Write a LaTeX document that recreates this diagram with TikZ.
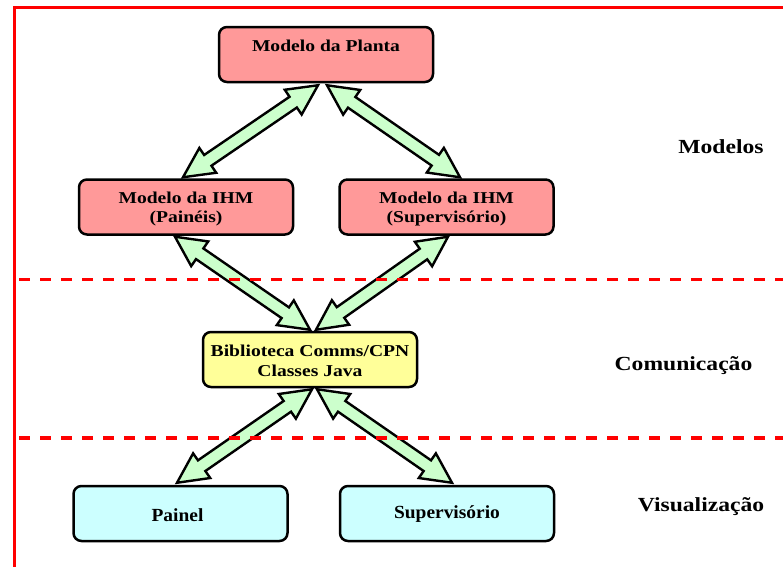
\documentclass[tikz,border=0pt]{standalone}
\usepackage{fontspec}
\setmainfont{Liberation Serif}[FakeStretch=1.18]
\newfontfamily\condserif{Liberation Serif}[FakeStretch=1.05]
\usetikzlibrary{calc}

\definecolor{boxpink}{HTML}{FF9999}
\definecolor{boxyellow}{HTML}{FFFF99}
\definecolor{boxcyan}{HTML}{CCFFFF}
\definecolor{flowgreen}{HTML}{CCFFCC}

% head length, head half-width, shaft half-width of the block arrows
\newcommand\hl{30pt}
\newcommand\hw{15pt}
\newcommand\sw{6.5pt}

% double-headed block arrow between two named coordinates
\newcommand\blockarrow[2]{%
  \filldraw[flow] (#1)
    -- ($(#1)!\hl!(#2)!\hw!90:(#2)$)
    -- ($(#1)!\hl!(#2)!\sw!90:(#2)$)
    -- ($(#2)!\hl!(#1)!\sw!-90:(#1)$)
    -- ($(#2)!\hl!(#1)!\hw!-90:(#1)$)
    -- (#2)
    -- ($(#2)!\hl!(#1)!\hw!90:(#1)$)
    -- ($(#2)!\hl!(#1)!\sw!90:(#1)$)
    -- ($(#1)!\hl!(#2)!\sw!-90:(#2)$)
    -- ($(#1)!\hl!(#2)!\hw!-90:(#2)$)
    -- cycle;}

\tikzset{
  stagebox/.style={draw=black, line width=2.5pt, rounded corners=8pt,
    minimum width=214pt, minimum height=55pt, inner sep=0pt},
  boxtext/.style={align=center, inner sep=0pt,
    font=\bfseries\fontsize{16.6}{19.5}\selectfont},
  plaintext/.style={inner sep=0pt, font=\condserif\bfseries\fontsize{18.5}{20}\selectfont},
  flow/.style={fill=flowgreen, draw=black, line width=2.4pt, line join=miter},
  layerlabel/.style={font=\bfseries\fontsize{20}{22}\selectfont, anchor=base},
  frame/.style={draw=red, line width=3pt},
  divider/.style={draw=red, line width=3.3pt, dash pattern=on 11pt off 10pt},
}

\begin{document}
\begin{tikzpicture}[x=1pt, y=-1pt]
  \fill[white] (0,0) rectangle (783,566);
  \useasboundingbox (0,0) rectangle (783,566);

  % outer frame
  \coordinate (frameTL) at (14,7.5);
  \coordinate (frameTR) at (790,7.5);
  \coordinate (frameBL) at (14,575);
  \draw[frame] (frameTR) -- (frameTL) -- (frameBL);

  % boxes
  \node[stagebox, fill=boxpink] (planta) at (326,54.5) {};
  \node[stagebox, fill=boxpink] (paineis) at (186,207) {};
  \node[stagebox, fill=boxpink] (superv) at (446.5,207) {};
  \node[stagebox, fill=boxyellow] (biblio) at (310,359.5) {};
  \node[stagebox, fill=boxcyan] (painel) at (180.5,513.5) {};
  \node[stagebox, fill=boxcyan] (supervb) at (447,513.5) {};

  % box texts
  \node[boxtext] (plantatext) at ($(planta.center)+(0,-8.5)$) {Modelo da Planta};
  \node[boxtext] (paineistext) at ($(paineis.center)+(0,2)$) {Modelo da IHM\\(Painéis)};
  \node[boxtext] (supervtext) at ($(superv.center)+(0,2)$) {Modelo da IHM\\(Supervisório)};
  \node[boxtext] (bibliotext) at ($(biblio.center)+(0,1.5)$) {Biblioteca Comms/CPN\\Classes Java};
  \node[plaintext] (paineltext) at ($(painel.center)+(-3,1.5)$) {Painel};
  \node[plaintext] (supervbtext) at ($(supervb.center)+(0,1)$) {Supervisório};

  % layer labels
  \node[layerlabel] (lmodelos) at (721,153) {Modelos};
  \node[layerlabel] (lcomm) at (683.5,370) {Comunicação};
  \node[layerlabel] (lvis) at (701,511.5) {Visualização};

  % arrow end points
  \coordinate (a1s) at ($(planta.south)+(-8,2)$);
  \coordinate (a1e) at ($(paineis.north)+(-3,-1)$);
  \coordinate (a2s) at ($(planta.south)+(1,2)$);
  \coordinate (a2e) at ($(superv.north)+(13.5,-1)$);
  \coordinate (a3s) at ($(paineis.south)+(-11,1)$);
  \coordinate (a3e) at ($(biblio.north)+(0,-1)$);
  \coordinate (a4s) at ($(superv.south)+(1.5,1)$);
  \coordinate (a4e) at ($(biblio.north)+(6,-1)$);
  \coordinate (a5s) at ($(biblio.south)+(2,1)$);
  \coordinate (a5e) at ($(painel.north)+(-3.5,-2)$);
  \coordinate (a6s) at ($(biblio.south)+(7,1)$);
  \coordinate (a6e) at ($(supervb.north)+(5,-2)$);

  \blockarrow{a1s}{a1e}
  \blockarrow{a2s}{a2e}
  \blockarrow{a3s}{a3e}
  \blockarrow{a4s}{a4e}
  \blockarrow{a5s}{a5e}
  \blockarrow{a6s}{a6e}

  % layer dividers, drawn over the arrows
  \coordinate (div1L) at (19,279.5);
  \coordinate (div1R) at (790,279.5);
  \coordinate (div2L) at (19,438);
  \coordinate (div2R) at (790,438);
  \draw[divider] (div1L) -- (div1R);
  \draw[divider] (div2L) -- (div2R);
\end{tikzpicture}
\end{document}
